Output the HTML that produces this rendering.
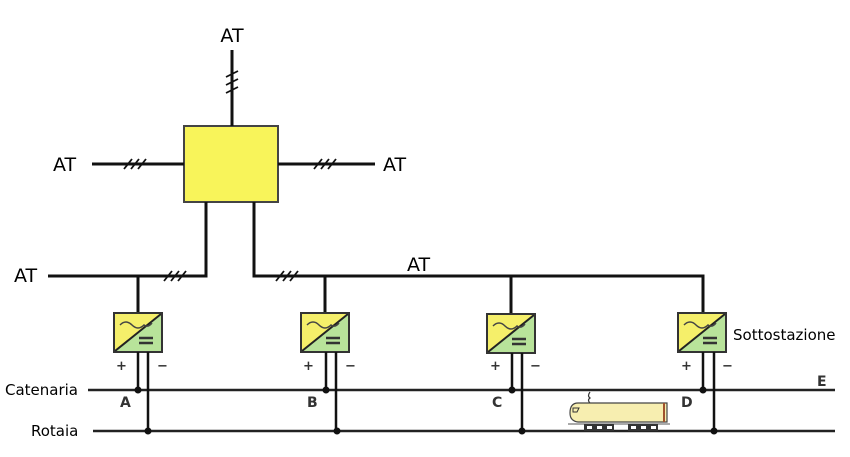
<!DOCTYPE html>
<html><head><meta charset="utf-8"><style>
html,body{margin:0;padding:0;background:#fff;}
svg{display:block;}
text{font-family:"DejaVu Sans","Liberation Sans",sans-serif;}
</style></head><body>
<svg width="850" height="457" viewBox="0 0 850 457" xmlns="http://www.w3.org/2000/svg">
<defs>
<g id="ss">
  <rect x="0" y="0" width="48" height="39" fill="#b8e39a" stroke="#333" stroke-width="2"/>
  <path d="M1 1 H47 L1 38 Z" fill="#f5ef6a"/>
  <path d="M1 38 L47 1" stroke="#222" stroke-width="2"/>
  <rect x="0" y="0" width="48" height="39" fill="none" stroke="#333" stroke-width="2"/>
  <path d="M6 12 q6 -6 12 0 t12 0 q4 3 8 -2" stroke="#444" stroke-width="1.5" fill="none"/>
  <path d="M25 25 H39 M25 30 H39" stroke="#333" stroke-width="2.5"/>
</g>
<g id="hatch" stroke="#111" stroke-width="1.8">
  <path d="M-12 5 L-4 -5 M-5 5 L3 -5 M2 5 L10 -5"/>
</g>
</defs>

<rect x="184" y="126" width="94" height="76" fill="#f8f45a" stroke="#444" stroke-width="2"/>
<g stroke="#111" stroke-width="3" fill="none">
  <path d="M232 50 V126"/>
  <path d="M92 164 H184"/>
  <path d="M278 164 H375"/>
  <path d="M206 202 V276 H48"/>
  <path d="M254 202 V276 H703 V313"/>
  <path d="M138 276 V313"/>
  <path d="M325 276 V313"/>
  <path d="M511 276 V314"/>
</g>
<g stroke="#111" stroke-width="1.8">
  <path d="M226 77 L238 71 M226 85 L238 79 M226 93 L238 87"/>
</g>
<use href="#hatch" x="136" y="164"/>
<use href="#hatch" x="326" y="164"/>
<use href="#hatch" x="176" y="276"/>
<use href="#hatch" x="288" y="276"/>

<text x="232" y="42" font-size="19" text-anchor="middle">AT</text>
<text x="53" y="171" font-size="19">AT</text>
<text x="383" y="171" font-size="19">AT</text>
<text x="14" y="282" font-size="19">AT</text>
<text x="407" y="271" font-size="19">AT</text>

<use href="#ss" x="114" y="313"/>
<use href="#ss" x="301" y="313"/>
<use href="#ss" x="487" y="314"/>
<use href="#ss" x="678" y="313"/>
<text x="733" y="340" font-size="15">Sottostazione</text>

<g stroke="#222" stroke-width="2.5">
  <path d="M88 390 H835"/>
  <path d="M93 431 H835"/>
</g>
<g stroke="#111" stroke-width="2.5">
  <path d="M138 352 V390 M148 352 V431"/>
  <path d="M326 352 V390 M336 352 V431"/>
  <path d="M512 353 V390 M522 353 V431"/>
  <path d="M703 352 V390 M714 352 V431"/>
</g>
<g fill="#111">
  <circle cx="138" cy="390" r="3.5"/><circle cx="148" cy="431" r="3.5"/>
  <circle cx="326" cy="390" r="3.5"/><circle cx="337" cy="431" r="3.5"/>
  <circle cx="512" cy="390" r="3.5"/><circle cx="522" cy="431" r="3.5"/>
  <circle cx="703" cy="390" r="3.5"/><circle cx="714" cy="431" r="3.5"/>
</g>
<g font-size="13" font-weight="bold" fill="#333">
  <text x="116" y="370">+</text><text x="157" y="370">−</text>
  <text x="303" y="370">+</text><text x="345" y="370">−</text>
  <text x="490" y="370">+</text><text x="530" y="370">−</text>
  <text x="681" y="370">+</text><text x="722" y="370">−</text>
  <text x="120" y="407" font-size="14">A</text>
  <text x="307" y="407" font-size="14">B</text>
  <text x="492" y="407" font-size="14">C</text>
  <text x="681" y="407" font-size="14">D</text>
  <text x="817" y="386" font-size="14">E</text>
</g>
<text x="5" y="395" font-size="15">Catenaria</text>
<text x="31" y="436" font-size="15">Rotaia</text>

<path d="M590 392 q-3 4 0 6 q-3 2 0 5" stroke="#333" stroke-width="1.2" fill="none"/>
<path d="M578 403 H667 V422 H578 q-8 -1 -8 -9 q0 -10 8 -10 Z" fill="#f7eeb0" stroke="#444" stroke-width="1.2"/>
<path d="M664 403 V422" stroke="#a0522d" stroke-width="2"/>
<path d="M573 408 h6 l-2 4 h-4 Z" fill="none" stroke="#333" stroke-width="1"/>
<path d="M568 424 H670" stroke="#555" stroke-width="1"/>
<g fill="#333">
  <rect x="584" y="424" width="30" height="7"/>
  <rect x="628" y="424" width="30" height="7"/>
</g>
<g fill="#fff">
  <rect x="587" y="426" width="5" height="3"/><rect x="597" y="426" width="5" height="3"/><rect x="607" y="426" width="5" height="3"/>
  <rect x="631" y="426" width="5" height="3"/><rect x="641" y="426" width="5" height="3"/><rect x="651" y="426" width="5" height="3"/>
</g>
</svg>
</body></html>
